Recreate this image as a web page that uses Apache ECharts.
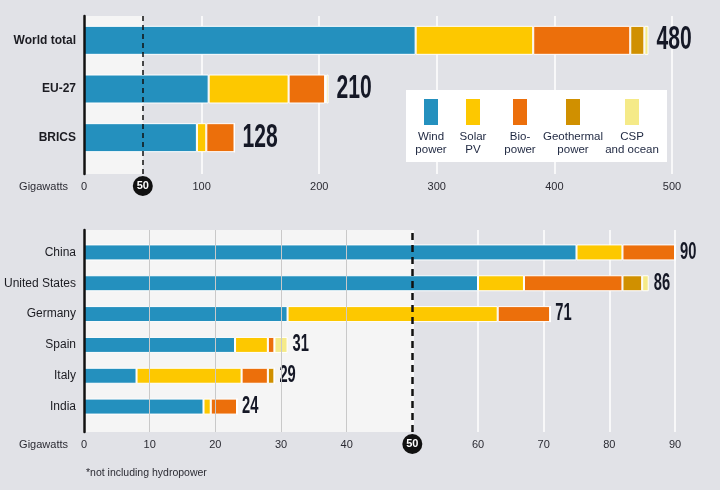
<!DOCTYPE html>
<html>
<head>
<meta charset="utf-8">
<script src="https://cdn.jsdelivr.net/npm/echarts@6/dist/echarts.min.js"></script>
<style>
html,body{margin:0;padding:0;background:#e1e2e7;}
#chart{width:720px;height:490px;}
</style>
</head>
<body>
<div id="chart"></div>
<script>
// ---------- DATA ----------
const seriesNames = ['Wind power', 'Solar PV', 'Bio-power', 'Geothermal power', 'CSP and ocean'];
const legendLabels = ['Wind\npower', 'Solar\nPV', 'Bio-\npower', 'Geothermal\npower', 'CSP\nand ocean'];

const categoriesTop = ['World total', 'EU-27', 'BRICS'];
const windTop  = [282, 106, 96];
const solarTop = [100, 68, 8];
const bioTop   = [82.5, 31, 24];
const geoTop   = [12, 1, 0];
const cspTop   = [3.5, 2, 0];
const totalsTop = [480, 210, 128];
const ticksTop = [0, 100, 200, 300, 400, 500];

const categoriesBottom = ['China', 'United States', 'Germany', 'Spain', 'Italy', 'India'];
const windBottom  = [75, 60, 31, 23, 8, 18.2];
const solarBottom = [7, 7, 32, 5, 16, 1.1];
const bioBottom   = [8, 15, 8, 1, 4, 4];
const geoBottom   = [0, 3, 0, 0, 1, 0];
const cspBottom   = [0, 1, 0, 2, 0, 0];
const totalsBottom = [90, 86, 71, 31, 29, 24];
const ticksBottom = [0, 10, 20, 30, 40, 50, 60, 70, 80, 90];

const highlightValue = 50;
const axisName = 'Gigawatts';
const footnote = '*not including hydropower';

// ---------- STYLE ----------
const colors = ['#2490be', '#fdc800', '#ec6f0b', '#d09000', '#f5ea88'];
const FONT = '"Liberation Sans", Arial, sans-serif';
const BG = '#e1e2e7';
const LIGHT = '#f5f5f5';
const TEXT = '#2b2b33';

const chart = echarts.init(document.getElementById('chart'), null, {renderer: 'canvas'});

function xAxisBg(gridIndex, ticks, hideValue) {
  return {
    type: 'value', gridIndex: gridIndex,
    min: ticks[0], max: ticks[ticks.length - 1], interval: ticks[1] - ticks[0],
    axisLine: {show: false}, axisTick: {show: false},
    axisLabel: {
      fontFamily: FONT, fontSize: 11, color: TEXT, margin: 7,
      formatter: v => (v === hideValue ? '' : String(v))
    },
    splitLine: {show: true, lineStyle: {color: '#ffffff', width: 1.5}},
    name: axisName, nameLocation: 'start', nameGap: 16,
    nameTextStyle: {fontFamily: FONT, fontSize: 11, color: TEXT, align: 'right',
      verticalAlign: 'top', lineHeight: 26}
  };
}
function xAxisHidden(gridIndex, ticks) {
  return {type: 'value', gridIndex: gridIndex, min: ticks[0], max: ticks[ticks.length - 1], show: false};
}
function yAxisBg(gridIndex) {
  return {
    type: 'value', gridIndex: gridIndex, min: 0, max: 1, z: 10,
    axisLine: {show: true, lineStyle: {color: '#111', width: 2.5}},
    axisTick: {show: false}, axisLabel: {show: false}, splitLine: {show: false}
  };
}
function yAxisCat(gridIndex, cats, bold) {
  return {
    type: 'category', gridIndex: gridIndex, data: cats, inverse: true,
    axisLine: {show: false}, axisTick: {show: false}, splitLine: {show: false},
    axisLabel: {fontFamily: FONT, fontSize: 12, fontWeight: bold ? 'bold' : 'normal',
      color: '#1c1c22', margin: 8}
  };
}

function bgSeries(axisIdx, ticks, dashWidth, dashType) {
  const greyLines = ticks.filter(t => t > ticks[0] && t < highlightValue).map(t => ({xAxis: t}));
  return [
    {
      type: 'line', data: [], xAxisIndex: axisIdx, yAxisIndex: axisIdx, z: 1, silent: true,
      markArea: {silent: true, itemStyle: {color: LIGHT}, data: [[{xAxis: ticks[0]}, {xAxis: highlightValue}]]}
    },
    {
      type: 'line', data: [], xAxisIndex: axisIdx, yAxisIndex: axisIdx, z: 2, silent: true,
      markLine: {silent: true, symbol: 'none', label: {show: false},
        lineStyle: {color: '#c9c9c9', width: 1, type: 'solid'}, data: greyLines}
    },
    {
      type: 'line', data: [], xAxisIndex: axisIdx, yAxisIndex: axisIdx, z: 6, silent: true,
      markLine: {
        silent: true, symbol: 'none',
        lineStyle: {color: '#111', width: dashWidth, type: dashType},
        label: {
          show: true, position: 'start', distance: 2,
          formatter: '{b|' + highlightValue + '}',
          rich: {b: {backgroundColor: '#111', color: '#fff', borderRadius: 10, width: 20, height: 20,
            lineHeight: 20, align: 'center', fontFamily: FONT, fontWeight: 'bold', fontSize: 11}}
        },
        data: [{xAxis: highlightValue}]
      }
    }
  ];
}

function barSeries(axisIdx, stackName, valuesList, barWidth) {
  return valuesList.map((vals, i) => ({
    type: 'bar', name: seriesNames[i], stack: stackName,
    xAxisIndex: axisIdx, yAxisIndex: axisIdx, z: 3,
    barWidth: barWidth, data: vals,
    itemStyle: {color: colors[i], borderColor: '#ffffff', borderWidth: 1},
    label: {show: false}
  }));
}

// condensed total labels placed at the end of each stacked bar via the axes
function totalSeries(axisIdx, valuesList, totals, fontSize, gap, squeeze) {
  const data = totals.map((t, i) => [valuesList.reduce((s, arr) => s + arr[i], 0), i, t]);
  return {
    type: 'custom', xAxisIndex: axisIdx, yAxisIndex: axisIdx, z: 4, silent: true,
    data: data,
    renderItem: (params, api) => {
      const p = api.coord([api.value(0), api.value(1)]);
      return {
        type: 'text', x: p[0] + gap, y: p[1], scaleX: squeeze, scaleY: 1,
        style: {
          text: String(api.value(2)), x: 0, y: 0,
          align: 'left', verticalAlign: 'middle',
          font: 'bold ' + fontSize + 'px ' + FONT, fill: '#151826'
        }
      };
    }
  };
}

// legend built from the names and colours arrays
const legendX = [431, 473, 520, 573, 632];
const graphics = [
  {type: 'rect', left: 406, top: 90, shape: {width: 261, height: 72}, style: {fill: '#ffffff'}, z: 20}
];
legendLabels.forEach((lab, i) => {
  graphics.push({type: 'rect', left: legendX[i] - 7, top: 99, shape: {width: 14, height: 26},
    style: {fill: colors[i]}, z: 21});
  graphics.push({type: 'text', x: legendX[i], y: 131, z: 21,
    style: {text: lab, textAlign: 'center', textVerticalAlign: 'top', fill: '#1e2740',
      font: '11.5px ' + FONT, lineHeight: 12.5}});
});
graphics.push({type: 'text', x: 86, y: 468, z: 21,
  style: {text: footnote, fill: TEXT, font: '10.5px ' + FONT}});

const topValues = [windTop, solarTop, bioTop, geoTop, cspTop];
const bottomValues = [windBottom, solarBottom, bioBottom, geoBottom, cspBottom];

const option = {
  backgroundColor: BG,
  animation: false,
  grid: [
    {left: 84, right: 48, top: 16, height: 158},
    {left: 84, right: 48, top: 16, height: 146},
    {left: 84, right: 45, top: 230, height: 202},
    {left: 84, right: 45, top: 237, height: 185}
  ],
  xAxis: [
    xAxisBg(0, ticksTop, null),
    xAxisHidden(1, ticksTop),
    xAxisBg(2, ticksBottom, highlightValue),
    xAxisHidden(3, ticksBottom)
  ],
  yAxis: [
    yAxisBg(0),
    yAxisCat(1, categoriesTop, true),
    yAxisBg(2),
    yAxisCat(3, categoriesBottom, false)
  ],
  series: [].concat(
    bgSeries(0, ticksTop, 1.5, [5, 4]),
    barSeries(1, 'top', topValues, 29),
    [totalSeries(1, topValues, totalsTop, 33, 8, 0.64)],
    bgSeries(2, ticksBottom, 2.5, [7, 5]),
    barSeries(3, 'bottom', bottomValues, 16),
    [totalSeries(3, bottomValues, totalsBottom, 23, 5, 0.64)]
  ),
  graphic: graphics
};
chart.setOption(option);
</script>
</body>
</html>
